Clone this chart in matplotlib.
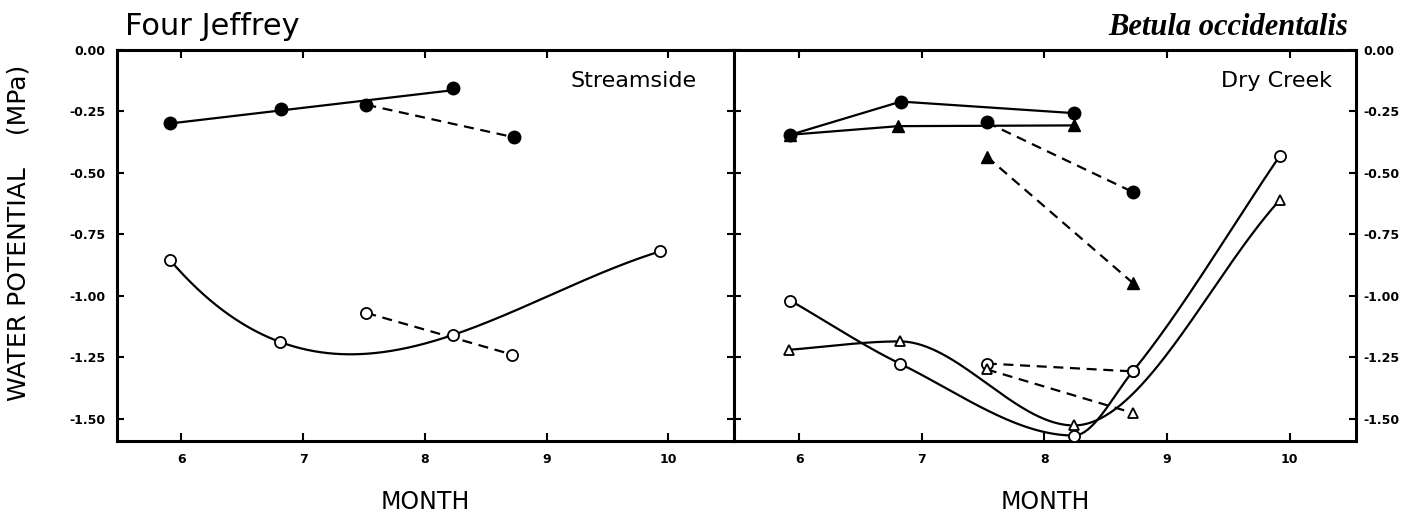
import numpy as np
import matplotlib.pyplot as plt

# axes
months = [6, 7, 8, 9, 10]
yticks = [0.0, -0.25, -0.5, -0.75, -1.0, -1.25, -1.5]
ytick_labels = ['0.00', '-0.25', '-0.50', '-0.75', '-1.00', '-1.25', '-1.50']

# Four Jeffrey - Streamside
fj_closed_x = [5.91, 6.82, 7.52, 8.23]
fj_closed_y = [-0.296, -0.242, -0.223, -0.153]
fj_closed_dash_x = [7.52, 8.73]
fj_closed_dash_y = [-0.223, -0.355]
fj_open_x = [5.91, 6.81, 8.23, 9.93]
fj_open_y = [-0.856, -1.188, -1.16, -0.82]
fj_open_dash_x = [7.52, 8.72]
fj_open_dash_y = [-1.07, -1.24]

# Betula occidentalis - Dry Creek
dc_circ_x = [5.93, 6.83, 8.24]
dc_circ_y = [-0.345, -0.21, -0.257]
dc_tri_x = [5.93, 6.81, 8.24]
dc_tri_y = [-0.345, -0.31, -0.307]
dc_circ_dash_x = [7.53, 8.72]
dc_circ_dash_y = [-0.295, -0.578]
dc_tri_dash_x = [7.53, 8.72]
dc_tri_dash_y = [-0.434, -0.948]
dc_ocirc_x = [5.93, 6.82, 8.24, 8.72, 9.92]
dc_ocirc_y = [-1.02, -1.276, -1.569, -1.308, -0.43]
dc_otri_x = [5.92, 6.82, 8.24, 9.92]
dc_otri_y = [-1.22, -1.186, -1.528, -0.61]
dc_ocirc_dash_x = [7.53, 8.72]
dc_ocirc_dash_y = [-1.276, -1.308]
dc_otri_dash_x = [7.53, 8.72]
dc_otri_dash_y = [-1.30, -1.477]


def pchip(x, y, n=300):
    # monotone cubic through the points (hand-drawn look of the curves)
    x = np.asarray(x, float)
    y = np.asarray(y, float)
    h = np.diff(x)
    d = np.diff(y) / h
    m = np.empty_like(y)
    m[0], m[-1] = d[0], d[-1]
    for k in range(1, len(x) - 1):
        if d[k - 1] * d[k] <= 0:
            m[k] = 0.0
        else:
            w1, w2 = 2 * h[k] + h[k - 1], h[k] + 2 * h[k - 1]
            m[k] = (w1 + w2) / (w1 / d[k - 1] + w2 / d[k])
    xs = np.linspace(x[0], x[-1], n)
    i = np.clip(np.searchsorted(x, xs) - 1, 0, len(h) - 1)
    t = (xs - x[i]) / h[i]
    ys = ((2 * t**3 - 3 * t**2 + 1) * y[i] + (t**3 - 2 * t**2 + t) * h[i] * m[i]
          + (-2 * t**3 + 3 * t**2) * y[i + 1] + (t**3 - t**2) * h[i] * m[i + 1])
    return xs, ys


def polycurve(x, y, deg, n=300):
    c = np.polyfit(x, y, deg)
    xs = np.linspace(min(x), max(x), n)
    return xs, np.polyval(c, xs)


fig = plt.figure(figsize=(14.13, 5.12), dpi=100)
ax1 = fig.add_axes([0.0826, 0.1393, 0.4369, 0.7631])
ax2 = fig.add_axes([0.5195, 0.1393, 0.4402, 0.7631])

lw = 1.6
dash = (0, (4.5, 3))
closed = dict(color='black', markersize=9, linestyle='none', zorder=5)
opened = dict(color='black', markerfacecolor='white', markersize=8,
              markeredgewidth=1.3, linestyle='none', zorder=5)

# left panel
xs, ys = polycurve(fj_closed_x, fj_closed_y, 1)
ax1.plot(xs, ys, color='black', lw=lw)
ax1.plot(fj_closed_dash_x, fj_closed_dash_y, color='black', lw=lw, ls=dash)
ax1.plot(fj_closed_x + fj_closed_dash_x[1:], fj_closed_y + fj_closed_dash_y[1:], 'o', **closed)
xs, ys = polycurve(fj_open_x, fj_open_y, 3)
ax1.plot(xs, ys, color='black', lw=lw)
ax1.plot(fj_open_dash_x, fj_open_dash_y, color='black', lw=lw, ls=dash)
ax1.plot(fj_open_x + fj_open_dash_x, fj_open_y + fj_open_dash_y, 'o', **opened)

# right panel
ax2.plot(dc_circ_x, dc_circ_y, color='black', lw=lw)
ax2.plot(dc_tri_x, dc_tri_y, color='black', lw=lw)
ax2.plot(dc_circ_dash_x, dc_circ_dash_y, color='black', lw=lw, ls=dash)
ax2.plot(dc_tri_dash_x, dc_tri_dash_y, color='black', lw=lw, ls=dash)
ax2.plot(dc_circ_x + dc_circ_dash_x, dc_circ_y + dc_circ_dash_y, 'o', **closed)
ax2.plot(dc_tri_x + dc_tri_dash_x, dc_tri_y + dc_tri_dash_y, '^', **dict(closed, markersize=8))

xs, ys = pchip(dc_ocirc_x, dc_ocirc_y)
ax2.plot(xs, ys, color='black', lw=lw)
xs, ys = pchip(dc_otri_x, dc_otri_y)
ax2.plot(xs, ys, color='black', lw=lw)
ax2.plot(dc_ocirc_dash_x, dc_ocirc_dash_y, color='black', lw=lw, ls=dash)
ax2.plot(dc_otri_dash_x, dc_otri_dash_y, color='black', lw=lw, ls=dash)
ax2.plot(dc_ocirc_x + dc_ocirc_dash_x, dc_ocirc_y + dc_ocirc_dash_y, 'o', **opened)
ax2.plot(dc_otri_x + dc_otri_dash_x, dc_otri_y + dc_otri_dash_y, '^', **dict(opened, markersize=7))

for ax in (ax1, ax2):
    ax.set_xlim(5.47, 10.54)
    ax.set_ylim(-1.59, 0.0)
    ax.set_xticks(months)
    ax.set_xticklabels([str(m) for m in months], fontsize=9, fontweight='bold')
    ax.set_yticks(yticks)
    ax.set_yticklabels(ytick_labels, fontsize=9, fontweight='bold')
    for s in ax.spines.values():
        s.set_linewidth(2.2)
    ax.tick_params(axis='x', direction='in', length=6, width=1.5, top=True, pad=9)
    ax.tick_params(axis='y', direction='in', length=5, width=1.5, left=True, right=True)
    ax.set_xlabel('MONTH', fontsize=17)
    ax.xaxis.set_label_coords(0.5, -0.125)

ax1.tick_params(axis='y', labelleft=True, labelright=False, pad=8)
ax2.tick_params(axis='y', labelleft=False, labelright=True, pad=5)

ax1.text(0.94, 0.905, 'Streamside', transform=ax1.transAxes, ha='right',
         va='baseline', fontsize=16)
ax2.text(0.961, 0.905, 'Dry Creek', transform=ax2.transAxes, ha='right',
         va='baseline', fontsize=16)

fig.text(0.0885, 1 - 35 / 512, 'Four Jeffrey', fontsize=22, ha='left', va='baseline')
fig.text(0.954, 1 - 35 / 512, 'Betula occidentalis', fontsize=22, ha='right',
         va='baseline', family='Liberation Serif', style='italic', fontweight='bold')
fig.text(0.013, 0.545, 'WATER POTENTIAL    (MPa)', rotation=90, ha='center',
         va='center', fontsize=18)

fig.savefig('out.png', dpi=100)
